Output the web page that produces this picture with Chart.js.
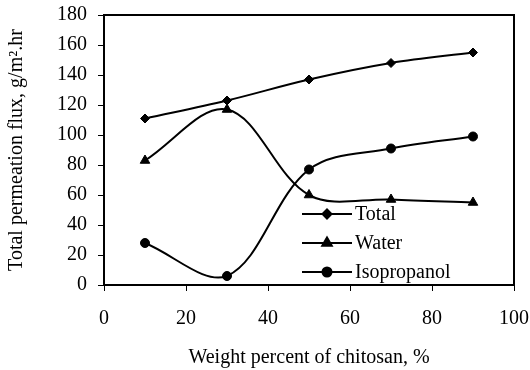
<!DOCTYPE html>
<html>
<head>
<meta charset="utf-8">
<script src="https://cdn.jsdelivr.net/npm/chart.js@4.4.1/dist/chart.umd.min.js"></script>
<style>
  body { margin: 0; background: #fff; }
  #wrap { width: 530px; height: 370px; }
</style>
</head>
<body>
<div id="wrap"><canvas id="fluxChart" width="530" height="370"></canvas></div>
<script>
// chitosan weight percent
const chitosan = [10, 30, 50, 70, 90];
// permeation flux, g/m2.hr
const totalFlux = [111, 123, 137, 148, 155];
const waterFlux = [83, 117, 60, 57, 55];
const ipaFlux = [28, 6, 77, 91, 99];

const xTicks = [0, 20, 40, 60, 80, 100];
const yTicks = [0, 20, 40, 60, 80, 100, 120, 140, 160, 180];

const serif = 'Liberation Serif, Times New Roman, serif';
const fontSize = 20;

function pts(vals) {
    return chitosan.map((x, i) => ({ x: x, y: vals[i] }));
}

function series(label, vals, style, radius) {
    return {
        label: label,
        data: pts(vals),
        borderColor: '#000',
        backgroundColor: '#000',
        borderWidth: 2,
        pointStyle: style,
        pointRadius: radius,
        pointBorderWidth: 1,
        tension: 0.35,
        fill: false
    };
}

// legend sits inside the plot, line + marker + name
const innerLegend = {
    id: 'innerLegend',
    afterDraw(chart) {
        const ctx = chart.ctx;
        const x0 = 302, x1 = 352, y0 = 214, gap = 29;
        chart.data.datasets.forEach((ds, i) => {
            const y = y0 + i * gap;
            ctx.save();
            ctx.strokeStyle = '#000';
            ctx.lineWidth = 2;
            ctx.beginPath();
            ctx.moveTo(x0, y);
            ctx.lineTo(x1, y);
            ctx.stroke();
            Chart.helpers.drawPoint(ctx, {
                pointStyle: ds.pointStyle,
                radius: ds.pointRadius,
                borderWidth: 1
            }, (x0 + x1) / 2, y);
            ctx.fillStyle = '#000';
            ctx.fill();
            ctx.font = fontSize + 'px ' + serif;
            ctx.textBaseline = 'middle';
            ctx.fillText(ds.label, x1 + 3, y + 1);
            ctx.restore();
        });
    }
};

// box round the plot area
const frame = {
    id: 'frame',
    beforeDatasetsDraw(chart) {
        const a = chart.chartArea;
        const ctx = chart.ctx;
        ctx.save();
        ctx.strokeStyle = '#000';
        ctx.lineWidth = 2;
        ctx.strokeRect(a.left, a.top, a.right - a.left, a.bottom - a.top);
        ctx.restore();
    }
};

const ctx = document.getElementById('fluxChart').getContext('2d');
new Chart(ctx, {
    type: 'line',
    data: {
        datasets: [
            series('Total', totalFlux, 'rectRot', 4.5),
            series('Water', waterFlux, 'triangle', 5.5),
            series('Isopropanol', ipaFlux, 'circle', 4.5)
        ]
    },
    options: {
        responsive: false,
        animation: false,
        layout: { padding: { top: 15, right: 16, left: 0, bottom: 0 } },
        plugins: {
            legend: { display: false },
            tooltip: { enabled: false }
        },
        scales: {
            x: {
                type: 'linear',
                min: 0,
                max: 100,
                afterBuildTicks(axis) { axis.ticks = xTicks.map(v => ({ value: v })); },
                afterFit(axis) {
                    axis.height = 85;
                    axis.paddingLeft = 0;
                    axis.paddingRight = 0;
                },
                grid: { drawOnChartArea: false, drawTicks: true, tickLength: 6, color: '#000', lineWidth: 1 },
                border: { display: true, color: '#000', width: 2 },
                ticks: { color: '#000', font: { family: serif, size: fontSize }, padding: 16, maxRotation: 0 },
                title: {
                    display: true,
                    text: 'Weight percent of chitosan, %',
                    color: '#000',
                    font: { family: serif, size: fontSize },
                    padding: { top: 0, bottom: 0 }
                }
            },
            y: {
                min: 0,
                max: 180,
                afterBuildTicks(axis) { axis.ticks = yTicks.map(v => ({ value: v })); },
                afterFit(axis) {
                    axis.width = 104;
                    axis.paddingTop = 0;
                    axis.paddingBottom = 0;
                },
                grid: { drawOnChartArea: false, drawTicks: true, tickLength: 6, color: '#000', lineWidth: 1 },
                border: { display: true, color: '#000', width: 2 },
                ticks: { color: '#000', font: { family: serif, size: fontSize }, padding: 11 },
                title: {
                    display: true,
                    text: 'Total permeation flux, g/m\u00b2.hr',
                    color: '#000',
                    font: { family: serif, size: fontSize },
                    padding: { top: 5, bottom: 0 }
                }
            }
        }
    },
    plugins: [frame, innerLegend]
});
</script>
</body>
</html>
